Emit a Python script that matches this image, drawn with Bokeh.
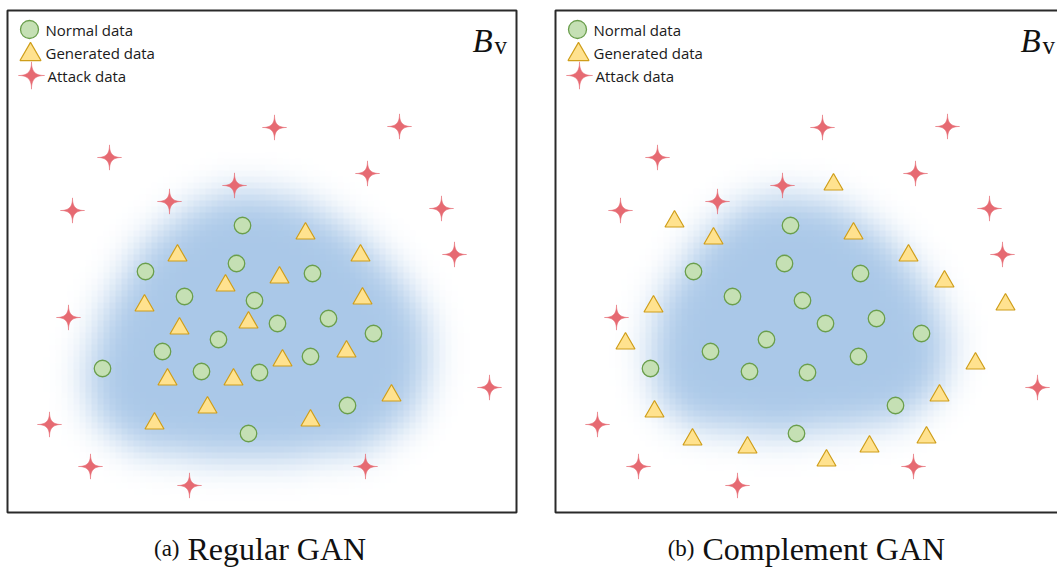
import numpy as np
from bokeh.plotting import figure
from bokeh.layouts import row
from bokeh.models import Range1d
from bokeh.core.properties import value
from bokeh.embed import file_html
from bokeh.resources import INLINE

# ---------------- data (panel coordinates, px from panel's bottom-left) ----------------
attack_x = [267, 392, 102, 360, 227, 162, 65, 434, 447, 61, 482, 42, 83, 358, 182]
attack_y = [385, 386, 355, 339, 327, 311, 302, 304, 258, 195, 125, 88, 46, 46, 27]

normal_x = [235, 229, 138, 305, 177, 247, 321, 270, 366, 211, 155, 303, 95, 194, 252, 340, 241]
normal_y = [287, 249, 241, 239, 216, 212, 194, 189, 179, 173, 161, 156, 144, 141, 140, 107, 79]

gen_regular_x = [298, 170, 353, 272, 218, 137, 355, 172, 241, 275, 339, 160, 226, 384, 200, 147, 303]
gen_regular_y = [279, 257, 257, 235, 227, 207, 214, 184, 190, 152, 161, 133, 133, 117, 105, 89, 92]

gen_complement_x = [278, 119, 158, 298, 353, 389, 450, 98, 70, 420, 384, 99, 371, 137, 192, 314, 271]
gen_complement_y = [328, 291, 274, 279, 257, 231, 208, 206, 169, 149, 117, 101, 75, 73, 65, 66, 52]

# outline of the blurred "normal" region (half-intensity contour)
cloud_regular_x = [233, 293, 343, 388, 418, 423, 403, 353, 243, 133, 88, 78, 98, 133, 183]
cloud_regular_y = [322, 312, 282, 242, 192, 142, 92, 62, 52, 62, 92, 142, 202, 262, 307]
cloud_complement_x = [230, 285, 335, 375, 395, 385, 345, 245, 145, 105, 93, 105, 145, 185]
cloud_complement_y = [317, 307, 272, 222, 172, 122, 92, 80, 82, 107, 152, 212, 272, 307]

legend_labels = ["Normal data", "Generated data", "Attack data"]
captions = [("(a)", "Regular GAN"), ("(b)", "Complement GAN")]

# ---------------- styles ----------------
PANEL_W, PANEL_H = 509, 502
CIRCLE_FILL, CIRCLE_LINE = "#C5E0B4", "#6A9E4C"
TRI_FILL, TRI_LINE = "#FFE28F", "#CF9E1A"
STAR_FILL = "#E66A72"
BLUE = (170, 200, 232)
SERIF = value("Liberation Serif")
SANS = value("Open Sans")


def cloud_image(px, py, cell=6, sigma=18.0):
    nx, ny = int(np.ceil(PANEL_W / cell)), int(np.ceil(PANEL_H / cell))
    xs = (np.arange(nx) + 0.5) * cell
    ys = (np.arange(ny) + 0.5) * cell
    X, Y = np.meshgrid(xs, ys)
    inside = np.zeros_like(X, dtype=bool)
    n = len(px)
    for i in range(n):
        x1, y1 = px[i], py[i]
        x2, y2 = px[(i + 1) % n], py[(i + 1) % n]
        cond = (y1 > Y) != (y2 > Y)
        xint = x1 + (Y - y1) * (x2 - x1) / ((y2 - y1) if y2 != y1 else 1e-9)
        inside ^= cond & (X < xint)
    m = inside.astype(float)
    s = sigma / cell
    r = int(3 * s) + 1
    k = np.exp(-0.5 * (np.arange(-r, r + 1) / s) ** 2)
    k /= k.sum()
    m = np.apply_along_axis(lambda v: np.convolve(v, k, mode="same"), 1, m)
    m = np.apply_along_axis(lambda v: np.convolve(v, k, mode="same"), 0, m)
    img = np.empty((ny, nx), dtype=np.uint32)
    view = img.view(dtype=np.uint8).reshape((ny, nx, 4))
    view[..., 0] = BLUE[0]
    view[..., 1] = BLUE[1]
    view[..., 2] = BLUE[2]
    view[..., 3] = np.clip(m * 255, 0, 255).astype(np.uint8)
    return img, nx * cell, ny * cell


def star_shape(R=12.0, e=4.2, n=96):
    t = np.linspace(0, 2 * np.pi, n, endpoint=False)
    c, s = np.cos(t), np.sin(t)
    return R * np.sign(c) * np.abs(c) ** e, R * 1.05 * np.sign(s) * np.abs(s) ** e


def make_panel(width, x_start, gen_x, gen_y, cloud_x, cloud_y, cap):
    p = figure(width=width, height=567, frame_width=width, frame_height=567,
               x_range=Range1d(x_start, x_start + width), y_range=Range1d(-55, 512),
               x_axis_type=None, y_axis_type=None, toolbar_location=None,
               output_backend="svg", min_border=0, outline_line_color=None,
               background_fill_color="white", border_fill_color="white")
    img, dw, dh = cloud_image(cloud_x, cloud_y)
    p.image_rgba(image=[img], x=0, y=0, dw=dw, dh=dh)

    sx, sy = star_shape()
    p.patches(xs=[list(x + sx) for x in attack_x], ys=[list(y + sy) for y in attack_y],
              fill_color=STAR_FILL, line_color=STAR_FILL, line_width=0.6)
    p.scatter(normal_x, normal_y, marker="circle", size=16.5, fill_color=CIRCLE_FILL,
              line_color=CIRCLE_LINE, line_width=1.3)
    p.scatter(gen_x, gen_y, marker="triangle", size=19, fill_color=TRI_FILL,
              line_color=TRI_LINE, line_width=1.2)

    # legend (manual, no box)
    p.scatter([22], [483], marker="circle", size=18, fill_color=CIRCLE_FILL,
              line_color=CIRCLE_LINE, line_width=1.3)
    p.scatter([23], [458], marker="triangle", size=21, fill_color=TRI_FILL,
              line_color=TRI_LINE, line_width=1.2)
    lsx, lsy = star_shape(R=13.0)
    p.patches(xs=[list(24 + lsx)], ys=[list(437 + lsy)], fill_color=STAR_FILL,
              line_color=STAR_FILL, line_width=0.6)
    p.text(x=[38, 38, 40], y=[483, 460, 437], text=legend_labels, text_font=SANS,
           text_font_size="15px", text_baseline="middle", text_color="#1a1a1a")

    # B_v
    p.text(x=[465], y=[472], text=["B"], text_font=SERIF, text_font_style="italic",
           text_font_size="33px", text_baseline="alphabetic", text_color="#111")
    p.text(x=[487], y=[467], text=["v"], text_font=SERIF,
           text_font_size="25px", text_baseline="alphabetic", text_color="#111")

    # panel frame
    p.quad(left=[0], right=[PANEL_W], bottom=[0], top=[PANEL_H], fill_color=None,
           line_color="#2a2a2a", line_width=2)

    # caption
    lab, txt, lab_right, txt_left = cap
    p.text(x=[lab_right], y=[-36], text=[lab], text_font=SERIF, text_font_size="23px",
           text_align="right", text_baseline="alphabetic", text_color="#111")
    p.text(x=[txt_left], y=[-36], text=[txt], text_font=SERIF, text_font_size="32px",
           text_align="left", text_baseline="alphabetic", text_color="#111")
    return p


p1 = make_panel(536, -7, gen_regular_x, gen_regular_y, cloud_regular_x, cloud_regular_y,
                (captions[0][0], captions[0][1], 172, 180))
p2 = make_panel(521, -19, gen_complement_x, gen_complement_y, cloud_complement_x,
                cloud_complement_y, (captions[1][0], captions[1][1], 139, 147))

layout = row(p1, p2, spacing=0)
open("out.html", "w").write(file_html(layout, INLINE))
